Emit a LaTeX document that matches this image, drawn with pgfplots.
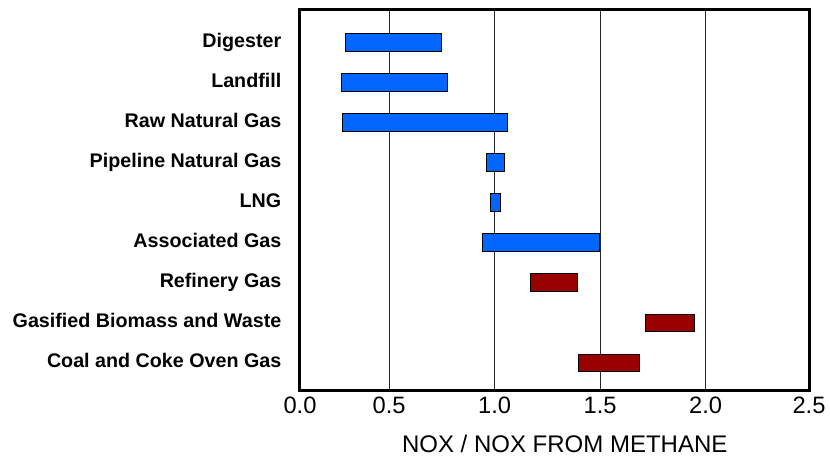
\documentclass[border=0pt]{standalone}
\usepackage{pgfplots}
\pgfplotsset{compat=1.18}
\usepackage{fontspec}
\setmainfont{Liberation Sans}
\definecolor{barblue}{RGB}{0,102,255}
\definecolor{barred}{RGB}{153,0,0}
\begin{document}
\begin{tikzpicture}
\path[use as bounding box] (-300bp,-67bp) rectangle (530bp,390bp);
\begin{axis}[
  scale only axis,
  width=509bp, height=381bp,
  at={(0,0)}, anchor=south west,
  xmin=0.078, xmax=2.49,
  ymin=-0.84, ymax=8.68,
  y dir=reverse,
  xbar stacked,
  bar width=17.5bp,
  ytick={0,1,2,3,4,5,6,7,8},
  yticklabels={Digester,Landfill,Raw Natural Gas,Pipeline Natural Gas,LNG,Associated Gas,Refinery Gas,Gasified Biomass and Waste,Coal and Coke Oven Gas},
  xtick={0.078,0.5,1,1.5,2,2.49},
  xticklabels={0.0,0.5,1.0,1.5,2.0,2.5},
  xmajorgrids,
  grid style={black!85, line width=1bp},
  major tick length=0pt,
  axis line style={line width=3bp, black},
  xticklabel style={font=\fontsize{23.7bp}{26bp}\selectfont, inner sep=0pt, anchor=north, yshift=-7bp},
  yticklabel style={font=\fontsize{19.7bp}{22bp}\selectfont\bfseries, inner sep=0pt, anchor=base east, xshift=-18.5bp, yshift=-4.5bp},
  xlabel={NOX / NOX FROM METHANE},
  xlabel style={font=\fontsize{24bp}{26bp}\selectfont, inner sep=0pt, at={(axis description cs:0.52,0)}, anchor=north, yshift=-44.5bp},
]
% invisible offsets (bar start)
\addplot[draw=none, fill=none, forget plot] coordinates {
(0.295,0) (0.274,1) (0.279,2) (0.960,3) (0.980,4) (0.941,5) (1.170,6) (1.715,7) (1.397,8)};
% blue ranges (length)
\addplot[fill=barblue, draw=black, line width=1bp] coordinates {
(0.453,0) (0.504,1) (0.784,2) (0.088,3) (0.048,4) (0.556,5) (0,6) (0,7) (0,8)};
% red ranges (length)
\addplot[fill=barred, draw=black, line width=1bp] coordinates {
(0,0) (0,1) (0,2) (0,3) (0,4) (0,5) (0.224,6) (0.232,7) (0.291,8)};
\end{axis}
\end{tikzpicture}
\end{document}
